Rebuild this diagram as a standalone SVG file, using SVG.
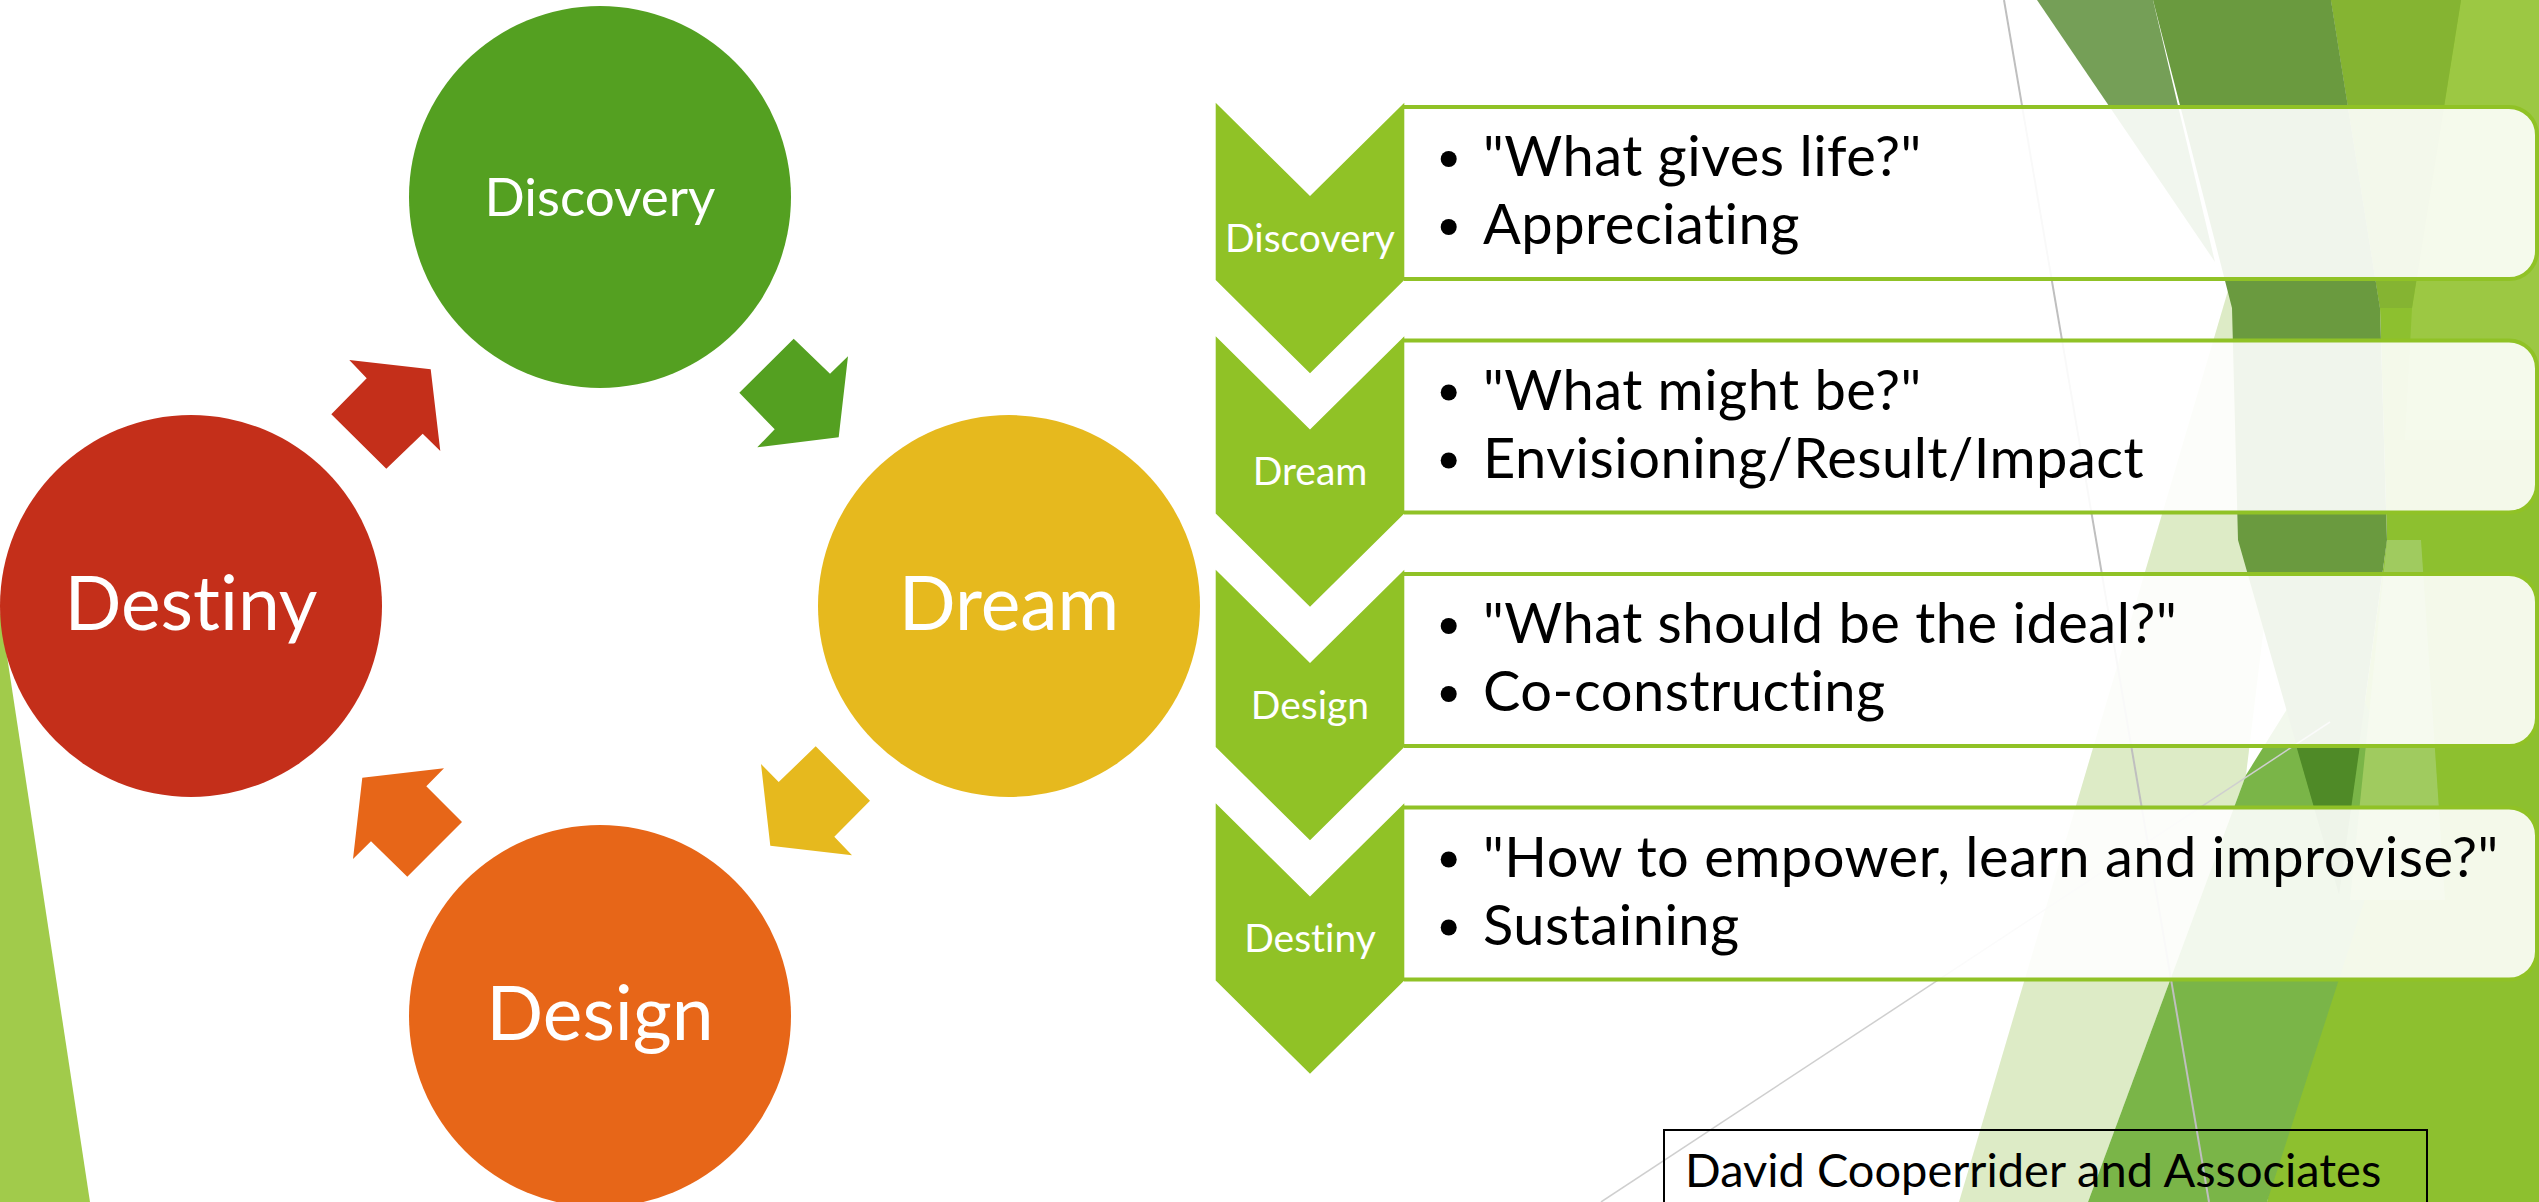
<svg xmlns="http://www.w3.org/2000/svg" width="2539" height="1202" viewBox="0 0 2539 1202">
  <style>
    text { font-variant-ligatures: none; }
    .ctext { font-family: Lato, "Open Sans", sans-serif; fill: #ffffff; text-anchor: middle; }
    .chev { fill: #90C226; }
    .chevtext { font-family: Lato, "Open Sans", sans-serif; fill: #ffffff; font-size: 39px; text-anchor: middle; }
    .box { fill: #ffffff; fill-opacity: 0.9; stroke: #90C226; stroke-width: 4; }
    .item { font-family: Lato, "Open Sans", sans-serif; font-size: 56px; letter-spacing: 0.5px; fill: #000000; }
    .dot { fill: #000000; }
  </style>
  <rect width="2539" height="1202" fill="#ffffff"/>

  <!-- background facets -->
  <g id="background">
    <polygon points="0,610 90,1202 0,1202" fill="#A1CB4B"/>
    <!-- lime base shard -->
    <polygon points="2331,0 2539,0 2539,1202 2267,1202 2355,775 2387,540 2380,308" fill="#8DC02F"/>
    <!-- light upper-right shard -->
    <polygon points="2461,0 2539,0 2539,440 2405,440 2412,308" fill="#9CC843"/>
    <!-- olive top band -->
    <polygon points="2331,0 2461,0 2412,308 2380,308" fill="#85B432"/>
    <!-- pale shard -->
    <polygon points="2240,250 2272,560 2246,775 2088,1202 1959,1202" fill="#DDEBC6"/>
    <!-- medium shard -->
    <polygon points="2246,775 2330,640 2405,775 2267,1202 2088,1202" fill="#7AB548"/>
    <!-- pale lighter shard -->
    <polygon points="2387,540 2421,540 2445,900 2350,900" fill="#A0CB5F"/>
    <!-- grey-green top shard -->
    <polygon points="2037,0 2153,0 2215,262" fill="#759F57"/>
    <!-- dark inverted shard -->
    <polygon points="2153,0 2331,0 2380,308 2387,540 2355,775 2339,894 2305,775 2238,540 2232,308" fill="#6A9A3F"/>
    <polygon points="2296,745 2360,745 2339,894" fill="#4F8A27"/>
    <line x1="2004" y1="0" x2="2209" y2="1202" stroke="#BFBFBF" stroke-width="2"/>
    <line x1="1601" y1="1202" x2="2330" y2="722" stroke="#CFCFCF" stroke-width="1.5"/>
  </g>

  <!-- cycle arrows -->
  <g id="connectors">
    <polygon points="349.3,360 430.7,369.3 440.3,451 422.7,433.7 386.3,468.7 331.3,414.3 366.7,378.3" fill="#C42F1A"/>
    <polygon points="793.7,338.7 830,373.7 848,356.3 838.7,437.3 757.3,447.3 774.7,429.3 739.3,392.7" fill="#54A021"/>
    <polygon points="815.7,746.3 870,800.7 834.3,836.7 852,855.3 770.3,845.7 761,764 778.7,782" fill="#E6B91E"/>
    <polygon points="444,768.3 362.3,777.7 353,859 371,841.3 407.3,876.7 462,822 426.3,786.3" fill="#E76618"/>
  </g>

  <g id="discovery">
    <circle cx="600" cy="197" r="191" fill="#54A021"/>
    <text class="ctext" x="600" y="216" font-size="53">Discovery</text>
  </g>
  <g id="dream">
    <circle cx="1009" cy="606" r="191" fill="#E6B91E"/>
    <text class="ctext" x="1009" y="630" font-size="75">Dream</text>
  </g>
  <g id="design">
    <circle cx="600" cy="1016" r="191" fill="#E76618"/>
    <text class="ctext" x="600" y="1040" font-size="75">Design</text>
  </g>
  <g id="destiny">
    <circle cx="191" cy="606" r="191" fill="#C42F1A"/>
    <text class="ctext" x="191" y="630" font-size="75">Destiny</text>
  </g>

  <!-- phase list -->
  <g id="phase-discovery">
    <path class="box" d="M1404,107 H2509 A28,28 0 0 1 2537,135 V251 A28,28 0 0 1 2509,279 H1404"/>
    <path class="chev" d="M1215.7,102.7 L1310,196 L1404.3,102.7 L1404.3,280 L1310,373.3 L1215.7,280 Z"/>
    <text class="chevtext" x="1310" y="251.7">Discovery</text>
    <circle class="dot" cx="1448.7" cy="159" r="8"/>
    <text class="item" x="1483" y="176">"What gives life?"</text>
    <circle class="dot" cx="1448.7" cy="227" r="8"/>
    <text class="item" x="1483" y="244">Appreciating</text>
  </g>
  <g id="phase-dream">
    <path class="box" d="M1404,340.5 H2509 A28,28 0 0 1 2537,368.5 V484.5 A28,28 0 0 1 2509,512.5 H1404"/>
    <path class="chev" d="M1215.7,336.2 L1310,429.5 L1404.3,336.2 L1404.3,513.5 L1310,606.8 L1215.7,513.5 Z"/>
    <text class="chevtext" x="1310" y="485.2">Dream</text>
    <circle class="dot" cx="1448.7" cy="392.5" r="8"/>
    <text class="item" x="1483" y="409.5">"What might be?"</text>
    <circle class="dot" cx="1448.7" cy="460.5" r="8"/>
    <text class="item" x="1483" y="477.5">Envisioning/Result/Impact</text>
  </g>
  <g id="phase-design">
    <path class="box" d="M1404,574 H2509 A28,28 0 0 1 2537,602 V718 A28,28 0 0 1 2509,746 H1404"/>
    <path class="chev" d="M1215.7,569.7 L1310,663 L1404.3,569.7 L1404.3,747 L1310,840.3 L1215.7,747 Z"/>
    <text class="chevtext" x="1310" y="718.7">Design</text>
    <circle class="dot" cx="1448.7" cy="626" r="8"/>
    <text class="item" x="1483" y="643">"What should be the ideal?"</text>
    <circle class="dot" cx="1448.7" cy="694" r="8"/>
    <text class="item" x="1483" y="711">Co-constructing</text>
  </g>
  <g id="phase-destiny">
    <path class="box" d="M1404,807.5 H2509 A28,28 0 0 1 2537,835.5 V951.5 A28,28 0 0 1 2509,979.5 H1404"/>
    <path class="chev" d="M1215.7,803.2 L1310,896.5 L1404.3,803.2 L1404.3,980.5 L1310,1073.8 L1215.7,980.5 Z"/>
    <text class="chevtext" x="1310" y="952.2">Destiny</text>
    <circle class="dot" cx="1448.7" cy="859.5" r="8"/>
    <text class="item" x="1483" y="876.5">"How to empower, learn and improvise?"</text>
    <circle class="dot" cx="1448.7" cy="927.5" r="8"/>
    <text class="item" x="1483" y="944.5">Sustaining</text>
  </g>

  <g id="credit">
    <rect x="1664" y="1130" width="763" height="90" fill="none" stroke="#000000" stroke-width="2"/>
    <text x="1685" y="1186.5" font-family="Lato, 'Open Sans', sans-serif" font-size="47" fill="#000000">David Cooperrider and Associates</text>
  </g>
</svg>
